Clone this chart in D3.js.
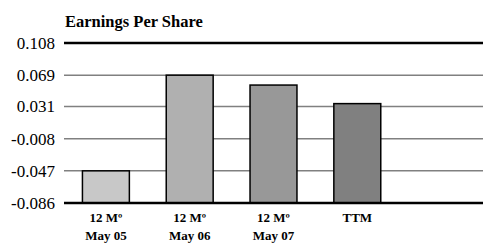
<!DOCTYPE html>
<html>
<head>
<meta charset="utf-8">
<script src="https://cdn.jsdelivr.net/npm/d3@7"></script>
<style>
body { margin: 0; background: #fff; }
</style>
</head>
<body>
<div id="container"></div>
<script>
const categories = ["c1", "c2", "c3", "c4", "c5"];
const line1 = ["12 Mº", "12 Mº", "12 Mº", "TTM", ""];
const line2 = ["May 05", "May 06", "May 07", "", ""];
const values = [-0.047, 0.069, 0.057, 0.0345, null];
const colors = ["#c8c8c8", "#b0b0b0", "#989898", "#808080", "#808080"];
const tickLabels = ["-0.086", "-0.047", "-0.008", "0.031", "0.069", "0.108"];
const tickValues = tickLabels.map(Number);

const w = 483; // canvas width
const h = 244; // canvas height
const pLeft = 64, pRight = 483, pTop = 43, pBottom = 203;
const serif = "'Liberation Serif', 'DejaVu Serif', serif";

const svg = d3.select("#container").append("svg").attr("width", w).attr("height", h).attr("font-family", serif);

const xScale = d3.scaleBand().domain(categories).range([pLeft, pRight]).paddingInner(0.44).paddingOuter(0.22);
const yScale = d3.scaleLinear().domain([-0.086, 0.108]).range([pBottom, pTop]);

svg.append("text").attr("x", 65).attr("y", 27).attr("font-size", 16.5).attr("font-weight", "bold").text("Earnings Per Share");

// grid lines
svg.selectAll(".grid").data(tickValues.slice(1, -1)).enter().append("line")
	.attr("x1", pLeft).attr("x2", pRight)
	.attr("y1", (d) => yScale(d)).attr("y2", (d) => yScale(d))
	.attr("stroke", "#808080").attr("stroke-width", 1.5);

const yAxis = d3.axisLeft(yScale).tickValues(tickValues).tickSize(0).tickPadding(9).tickFormat((d, i) => tickLabels[i]);
const yg = svg.append("g").attr("transform", `translate(${pLeft}, 0)`).call(yAxis);
yg.attr("font-family", serif);
yg.select(".domain").remove();
yg.selectAll("text").attr("font-size", 17).attr("fill", "#000");

// top line
svg.append("line").attr("x1", pLeft).attr("x2", pRight).attr("y1", yScale(0.108)).attr("y2", yScale(0.108)).attr("stroke", "#000").attr("stroke-width", 2.5);

const data = categories.map((c, i) => ({c, v: values[i], col: colors[i]})).filter(d => d.v != null);
svg.selectAll("rect").data(data).enter().append("rect")
	.attr("x", (d) => xScale(d.c)).attr("width", xScale.bandwidth())
	.attr("y", (d) => yScale(d.v)).attr("height", (d) => yScale(-0.086) - yScale(d.v))
	.attr("fill", (d) => d.col).attr("stroke", "#000").attr("stroke-width", 1.5);

// bottom axis line
svg.append("line").attr("x1", pLeft).attr("x2", pRight).attr("y1", pBottom).attr("y2", pBottom).attr("stroke", "#000").attr("stroke-width", 2.5);

const xg = svg.append("g");
categories.forEach((c, i) => {
	const cx = xScale(c) + xScale.bandwidth() / 2;
	xg.append("text").attr("x", cx).attr("y", 222).attr("text-anchor", "middle").attr("font-size", 13).attr("font-weight", "bold").text(line1[i]);
	xg.append("text").attr("x", cx).attr("y", 240).attr("text-anchor", "middle").attr("font-size", 13).attr("font-weight", "bold").text(line2[i]);
});
</script>
</body>
</html>
